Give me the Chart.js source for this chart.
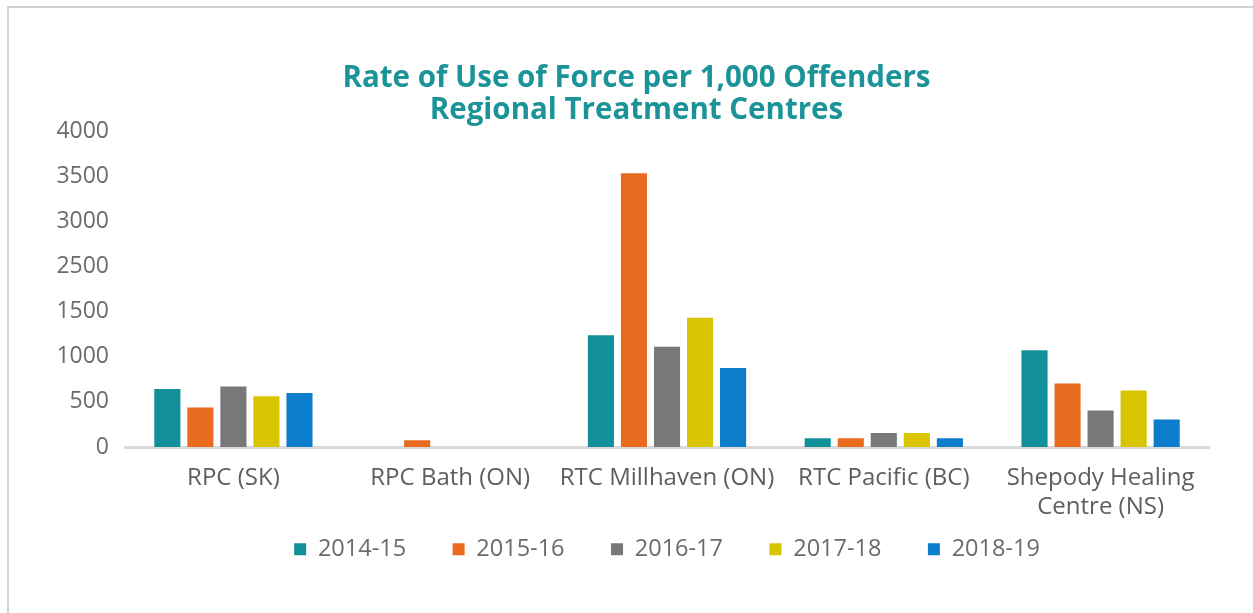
<!DOCTYPE html>
<html>
<head>
<meta charset="utf-8">
<script src="https://cdn.jsdelivr.net/npm/chart.js@4/dist/chart.umd.min.js"></script>
<style>
  html, body { margin: 0; padding: 0; background: #ffffff; }
  #wrap { position: relative; width: 1253px; height: 613px; overflow: hidden; }
  #frame { position: absolute; left: 7px; top: 6px; width: 1300px; height: 700px;
           border-top: 2px solid #d3d3d3; border-left: 2px solid #d3d3d3; }
  canvas { position: absolute; left: 0; top: 0; }
</style>
</head>
<body>
<div id="wrap">
  <div id="frame"></div>
  <canvas id="c" width="1253" height="613"></canvas>
</div>
<script>
// ---- data ----
const categories = ['RPC (SK)', 'RPC Bath (ON)', 'RTC Millhaven (ON)', 'RTC Pacific (BC)', ['Shepody Healing', 'Centre (NS)']];
const seriesNames = ['2014-15', '2015-16', '2016-17', '2017-18', '2018-19'];
const values2014_15 = [642, 0, 1239, 96, 1071];
const values2015_16 = [439, 75, 3534, 96, 703];
const values2016_17 = [671, 0, 1110, 155, 405];
const values2017_18 = [561, 0, 1433, 155, 626];
const values2018_19 = [598, 0, 874, 96, 306];
// tick labels as printed on the original axis (evenly spaced; 2000 is absent)
const yTickLabels = ['0', '500', '1000', '1500', '2500', '3000', '3500', '4000'];

const seriesValues = [values2014_15, values2015_16, values2016_17, values2017_18, values2018_19];
const seriesColors = ['#12909a', '#e96b1f', '#78787b', '#d8c400', '#0b7dca'];

// Map a value onto the printed (evenly spaced) tick positions
const tickNums = yTickLabels.map(Number);
function toAxisPos(v) {
  if (v <= tickNums[0]) return 0;
  for (let i = 0; i < tickNums.length - 1; i++) {
    if (v <= tickNums[i + 1]) return i + (v - tickNums[i]) / (tickNums[i + 1] - tickNums[i]);
  }
  return tickNums.length - 1;
}
function fromAxisPos(p) {
  const i = Math.max(0, Math.min(tickNums.length - 2, Math.floor(p)));
  return tickNums[i] + (p - i) * (tickNums[i + 1] - tickNums[i]);
}

const { LinearScale } = Chart;
class PrintedTickScale extends LinearScale {
  getPixelForValue(value) { return super.getPixelForValue(toAxisPos(value)); }
  getPixelForTick(index) {
    const t = this.ticks[index];
    return t ? super.getPixelForValue(t.value) : null;
  }
  getValueForPixel(pixel) { return fromAxisPos(super.getValueForPixel(pixel)); }
}
PrintedTickScale.id = 'printedTicks';
PrintedTickScale.defaults = LinearScale.defaults;
Chart.register(PrintedTickScale);

Chart.defaults.font.family = "'Open Sans', sans-serif";

new Chart(document.getElementById('c'), {
  type: 'bar',
  data: {
    labels: categories,
    datasets: seriesNames.map((name, i) => ({
      label: name,
      data: seriesValues[i],
      backgroundColor: seriesColors[i],
      borderWidth: 0,
      categoryPercentage: 0.762,
      barPercentage: 0.79
    }))
  },
  options: {
    responsive: false,
    animation: false,
    layout: { padding: { left: 20, right: 0, top: 0, bottom: 42 } },
    plugins: {
      title: {
        display: true,
        text: ['Rate of Use of Force per 1,000 Offenders', 'Regional Treatment Centres'],
        color: '#1b9499',
        font: { size: 29.5, weight: '700', lineHeight: 1.07 },
        padding: { top: 62.8, bottom: 5.2 }
      },
      legend: {
        position: 'bottom',
        fullSize: false,
        labels: {
          boxWidth: 12,
          boxHeight: 12,
          padding: 46.5,
          color: '#6b6b6b',
          font: { size: 23.5 }
        }
      },
      tooltip: { enabled: false }
    },
    scales: {
      x: {
        grid: { display: false, drawTicks: false },
        border: { display: true, color: '#d9d9d9', width: 3 },
        ticks: { color: '#5e5e5e', font: { size: 24, lineHeight: 1.21 }, padding: 17, maxRotation: 0, autoSkip: false },
        afterFit: (s) => { s.height = 44; s._computeLabelArea = () => null; }
      },
      y: {
        type: 'printedTicks',
        position: 'left',
        min: 0,
        max: yTickLabels.length - 1,
        grid: { display: false, drawTicks: false },
        border: { display: false },
        ticks: {
          stepSize: 1,
          padding: 16,
          color: '#6b6b6b',
          font: { size: 23 },
          callback: (value, index) => yTickLabels[index]
        },
        afterFit: (s) => { s.width = 105; }
      },
      yRight: {
        position: 'right',
        display: true,
        grid: { display: false, drawTicks: false },
        border: { display: false },
        ticks: { display: false },
        afterFit: (s) => { s.width = 44; }
      }
    }
  }
});
</script>
</body>
</html>
